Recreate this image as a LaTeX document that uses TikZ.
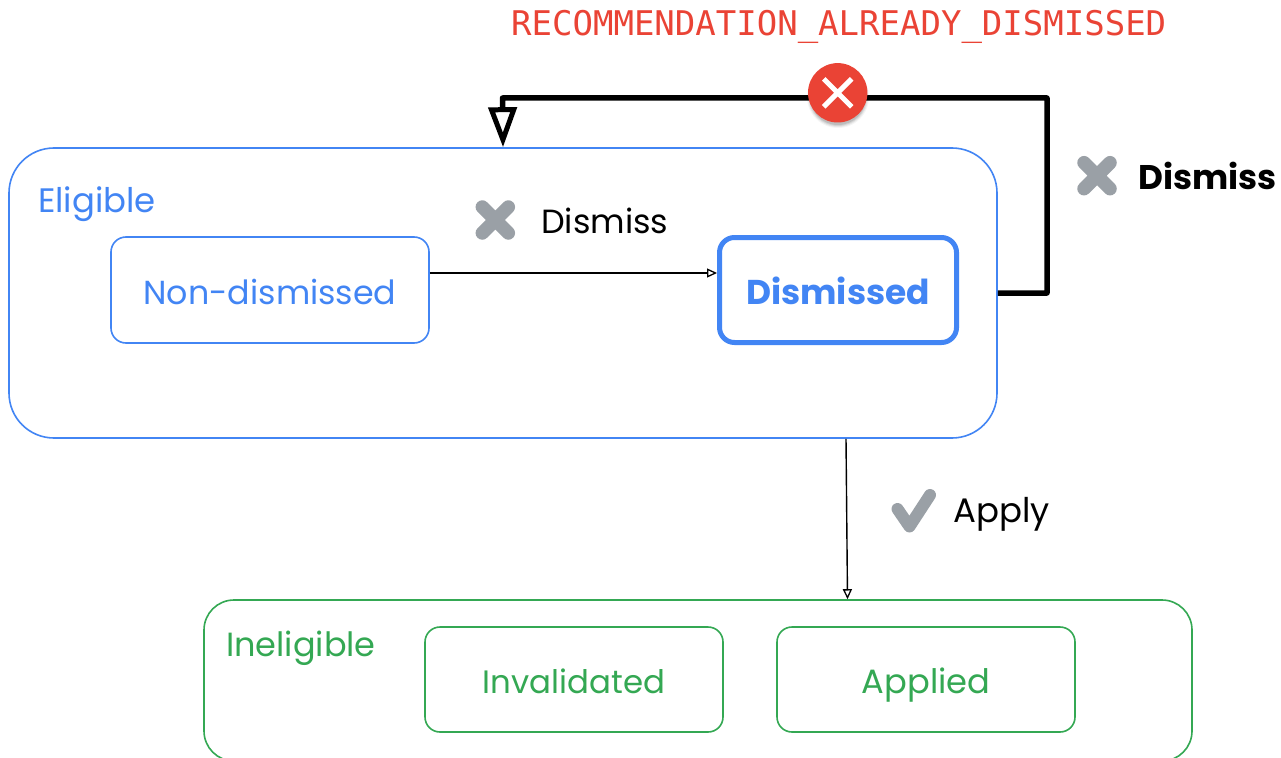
\documentclass[tikz,border=0pt]{standalone}
\usepackage{fontspec}
\setmainfont{Poppins}
\newfontfamily\monof{DejaVu Sans Mono}
\usetikzlibrary{arrows.meta,calc}
\definecolor{gblue}{HTML}{4285F4}
\definecolor{ggreen}{HTML}{34A853}
\definecolor{gred}{HTML}{EA4335}
\definecolor{ggrey}{HTML}{9AA0A6}
\newcommand{\fsz}[1]{\fontsize{#1}{40}\selectfont}
\tikzset{
  x=1pt,y=-1pt,
  box/.style={draw,rounded corners=#1,inner sep=0pt,fill=none,text height=28pt,text depth=0pt},
  bluebox/.style={box=#1,draw=gblue,line width=1.6pt},
  greenbox/.style={box=#1,draw=ggreen,line width=1.6pt},
  thinarrow/.style={draw=black,line width=1.4pt,-{Triangle[open,length=10pt,width=9pt,line width=1.3pt]}},
  thickarrow/.style={draw=black,line width=5.5pt,line join=round,-{Triangle[open,length=40pt,width=28pt,line width=5pt]}},
  lbl/.style={inner sep=0pt,anchor=base west,text=black},
  icon/.style={draw=ggrey,line width=13.5pt,line cap=round,line join=round},
  checkicon/.style={draw=ggrey,line width=12pt,line cap=round,line join=round},
}
\begin{document}
\begin{tikzpicture}
\useasboundingbox (0,0) rectangle (1281,757);
\clip (0,0) rectangle (1281,757);
\fill[white] (0,0) rectangle (1281,757);
% containers
\node[bluebox=45pt,minimum width=988pt,minimum height=290pt] (elig) at (503,293) {};
\node[greenbox=30pt,minimum width=988pt,minimum height=161pt] (inelig) at (698,680.5) {};
% states
\node[bluebox=15pt,minimum width=318pt,minimum height=106pt,text=gblue,font=\fsz{33.3}] (nond) at (270,290) {Non-dismissed};
\node[box=15pt,draw=gblue,line width=5pt,minimum width=237pt,minimum height=105pt,text=gblue,font=\fsz{34.4}\bfseries] (dism) at (838,290) {Dismissed};
\node[greenbox=15pt,minimum width=298pt,minimum height=105pt,text=ggreen,font=\fsz{32.4}] (inval) at (574,679.5) {Invalidated};
\node[greenbox=15pt,minimum width=298pt,minimum height=105pt,text=ggreen,font=\fsz{33.7}] (appl) at (926,679.5) {Applied};
% container labels
\node[lbl,text=gblue,font=\fsz{33.9}] (eliglbl) at (38,212) {Eligible};
\node[lbl,text=ggreen,font=\fsz{33.5}] (ineliglbl) at (226,656) {Ineligible};
% connectors
\coordinate (a1) at ([yshift=17pt]nond.east);
\coordinate (a2) at ([yshift=17pt]dism.west);
\draw[thinarrow] (a1) -- (a2);
\coordinate (b1) at ([xshift=343pt]elig.south);
\coordinate (b2) at ([xshift=149.5pt]inelig.north);
\draw[thinarrow] (b1) -- (b2);
\coordinate (c1) at (1047,293);
\coordinate (c2) at (1047,98);
\coordinate (c3) at (502.5,98);
\draw[thickarrow] (elig.east) -- (c1) -- (c2) -- (c3) -- (elig.north);
% error button
\foreach \o/\r in {0.04/31,0.06/30,0.08/29,0.10/28}{
  \fill[black,opacity=\o] (838,97) circle[radius=\r];
}
\node[circle,fill=gred,minimum size=59.4pt,inner sep=0pt] (err) at (837.7,92.8) {};
\draw[white,line width=5pt] (823.7,78.8) -- (851.7,106.8) (851.7,78.8) -- (823.7,106.8);
\node[lbl,text=gred,font=\monof\fsz{34}] (code) at (511,36) {RECOMMENDATION\_ALREADY\_DISMISSED};
% edge labels
\draw[icon] (482.3,207) -- (508.3,233) (508.3,207) -- (482.3,233);
\node[lbl,font=\fsz{33.5}] (d1) at (541,233) {Dismiss};
\draw[icon] (1084,162.7) -- (1110,188.7) (1110,162.7) -- (1084,188.7);
\node[lbl,font=\fsz{34.2}\bfseries] (d2) at (1138,189) {Dismiss};
\draw[checkicon] (897.5,509) -- (909.5,526.5) -- (930,495);
\node[lbl,font=\fsz{34}] (ap) at (953,522) {Apply};
\end{tikzpicture}
\end{document}
